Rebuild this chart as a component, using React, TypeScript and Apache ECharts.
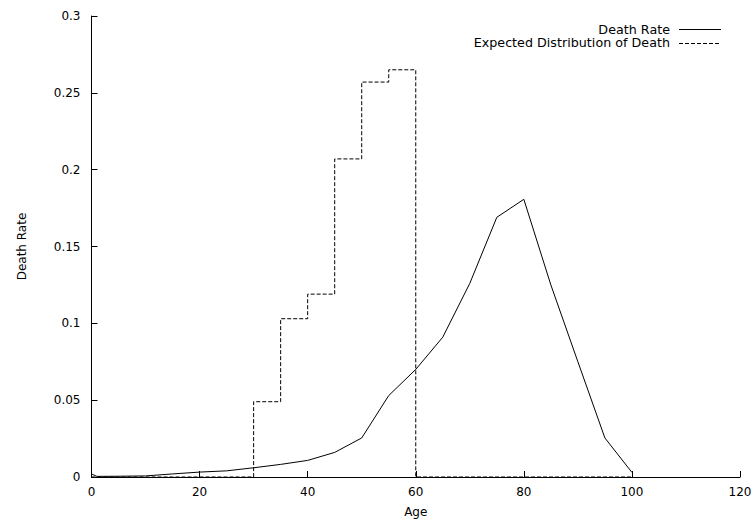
import React, { useEffect, useRef } from "react";
import * as echarts from "echarts";

const ages = [0, 1, 5, 10, 15, 20, 25, 30, 35, 40, 45, 50, 55, 60, 65, 70, 75, 80, 85, 90, 95, 100];
const deathRate = [0.002, 0.0004, 0.0005, 0.0007, 0.002, 0.0032, 0.004, 0.006, 0.0082, 0.0108, 0.016, 0.0254, 0.053, 0.070, 0.091, 0.126, 0.169, 0.1807, 0.125, 0.075, 0.0254, 0.003];
const distAges = [0, 5, 10, 15, 20, 25, 30, 35, 40, 45, 50, 55, 60, 65, 70, 75, 80, 85, 90, 95, 100];
const distValues = [0, 0, 0, 0, 0, 0, 0.049, 0.103, 0.119, 0.207, 0.257, 0.265, 0, 0, 0, 0, 0, 0, 0, 0, 0];
const yTicks = [0, 0.05, 0.1, 0.15, 0.2, 0.25, 0.3];
const legendNames = ["Death Rate", "Expected Distribution of Death"];

export default function App() {
  const ref = useRef<HTMLDivElement>(null);
  useEffect(() => {
    if (!ref.current) return;
    const chart = echarts.init(ref.current, undefined, { renderer: "svg" });
    const font = "'DejaVu Sans', sans-serif";
    chart.setOption({
      animation: false,
      textStyle: { fontFamily: font },
      grid: { left: 91.5, right: 15, top: 16, bottom: 43 },
      graphic: [
        {
          type: "text",
          x: 670,
          y: 30.5,
          scaleX: 1.06,
          style: { text: legendNames[0], textAlign: "right", textVerticalAlign: "middle", fontFamily: font, fontSize: 12, fill: "#000" },
        },
        {
          type: "line",
          shape: { x1: 679, y1: 29.5, x2: 721, y2: 29.5 },
          style: { stroke: "#000", lineWidth: 1 },
        },
        {
          type: "text",
          x: 670,
          y: 43.5,
          scaleX: 1.06,
          style: { text: legendNames[1], textAlign: "right", textVerticalAlign: "middle", fontFamily: font, fontSize: 12, fill: "#000" },
        },
        {
          type: "line",
          shape: { x1: 679, y1: 43.5, x2: 721, y2: 43.5 },
          style: { stroke: "#000", lineWidth: 1, lineDash: [4, 2] },
        },
      ],
      xAxis: {
        type: "value",
        min: 0,
        max: 120,
        interval: 20,
        name: "Age",
        nameLocation: "middle",
        nameGap: 29,
        nameTextStyle: { color: "#000", fontSize: 12, fontFamily: font },
        axisLine: { lineStyle: { color: "#000", width: 1 } },
        axisTick: { inside: true, length: 6, lineStyle: { color: "#000" } },
        axisLabel: { color: "#000", fontSize: 12, margin: 9, fontFamily: font },
        splitLine: { show: false },
      },
      yAxis: {
        type: "value",
        min: 0,
        max: 0.3,
        interval: 0.05,
        name: "Death Rate",
        nameLocation: "middle",
        nameGap: 64,
        nameRotate: 90,
        nameTextStyle: { color: "#000", fontSize: 12, fontFamily: font },
        axisLine: { show: true, lineStyle: { color: "#000", width: 1 } },
        axisTick: { show: true, inside: true, length: 6, lineStyle: { color: "#000" } },
        axisLabel: {
          color: "#000",
          fontSize: 12,
          margin: 11,
          fontFamily: font,
          formatter: (v: number) => {
            const t = yTicks.find((x) => Math.abs(x - v) < 1e-9);
            return String(t !== undefined ? +t.toFixed(2) : v);
          },
        },
        splitLine: { show: false },
      },
      series: [
        {
          name: legendNames[0],
          type: "line",
          data: ages.map((a, i) => [a, deathRate[i]]),
          symbol: "none",
          lineStyle: { color: "#000", width: 1 },
          itemStyle: { color: "#000" },
        },
        {
          name: legendNames[1],
          type: "line",
          step: "end",
          data: distAges.map((a, i) => [a, distValues[i]]),
          symbol: "none",
          lineStyle: { color: "#000", width: 1, type: [4, 2] },
          itemStyle: { color: "#000" },
        },
      ],
    });
    return () => chart.dispose();
  }, []);
  return <div ref={ref} style={{ width: 755, height: 523, position: "absolute", left: 0, top: 0, background: "#fff" }} />;
}
